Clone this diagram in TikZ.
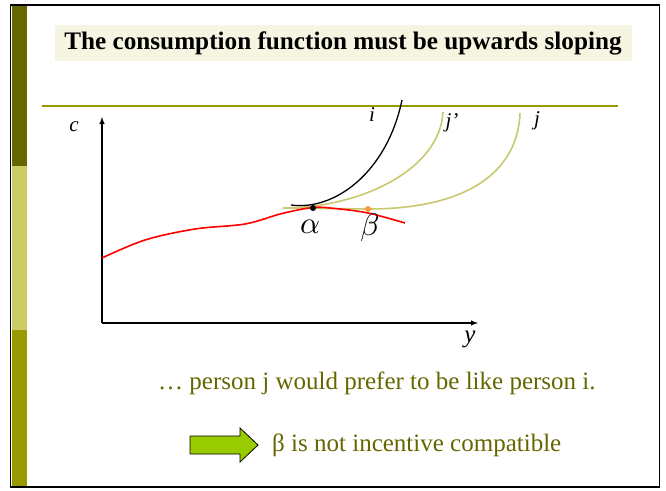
\documentclass[tikz,border=0pt]{standalone}
\usepackage{fontspec}
\setmainfont{Liberation Serif}
\begin{document}
\begin{tikzpicture}[x=1pt,y=-1pt,
  axis/.style={line width=1.4pt,-latex},
  khaki/.style={draw={rgb,255:red,200;green,200;blue,110},line width=1.6pt},
  lbl/.style={font=\itshape\fontsize{21}{21}\selectfont,inner sep=0pt},
  greek/.style={inner sep=0pt},
  olivetext/.style={text={rgb,255:red,102;green,102;blue,0},inner sep=0pt}]
\useasboundingbox (0,0) rectangle (666,490);
% frame and sidebar
\fill[color={rgb,255:red,102;green,102;blue,0}] (12,5) rectangle (27,166);
\fill[color={rgb,255:red,204;green,204;blue,102}] (12,166) rectangle (27,330);
\fill[color={rgb,255:red,153;green,153;blue,0}] (12,330) rectangle (27,487);
\draw[line width=1.5pt] (10.5,5) rectangle (659.5,487);
% title
\node[fill={rgb,255:red,245;green,245;blue,225},minimum width=577pt,minimum height=36pt,inner sep=0pt] (titlebox) at (343,43) {};
\node[font=\bfseries\fontsize{25.2}{25.2}\selectfont,inner sep=0pt] (title) at (titlebox.center) {The consumption function must be upwards sloping};
% horizontal line
\coordinate (hl) at (42,106);
\coordinate (hr) at (618,106);
\draw[line width=1.2pt,color={rgb,255:red,153;green,153;blue,0}] (hl) -- (hr);
% axes
\coordinate (O) at (102,323);
\coordinate (ytop) at (102,117);
\coordinate (xend) at (478,323);
\draw[axis] (O) -- (ytop);
\draw[axis] (O) -- (xend);
\node[lbl] (clbl) at (74,127) {c};
\node[lbl,font=\itshape\fontsize{25}{25}\selectfont] (ylbl) at (470,339) {y};
% points
\coordinate (alpha) at (313,208);
\coordinate (beta) at (368,209);
% khaki indifference curves
\coordinate (kstart) at (283,208);
\coordinate (jpend) at (443,112);
\coordinate (jend) at (520,113);
\draw[khaki] (kstart) .. controls (360,208) and (440,170) .. (jpend);
\draw[khaki] (kstart) -- (beta) .. controls (470,209) and (518,170) .. (jend);
% red curve
\draw[red,line width=1.6pt] plot[smooth,tension=0.55] coordinates {(102,258) (145,240) (195,229) (245,224) (282,213.5) (313,207.5) (335,208.5) (368,213) (405,223)};
% black curve i
\coordinate (istart) at (291,205);
\coordinate (iend) at (402,100);
\draw[line width=1.3pt] (istart) .. controls (335,211) and (387,172) .. (iend);
% dots
\fill[black] (alpha) circle (3pt);
\fill[color={rgb,255:red,255;green,153;blue,51}] (beta) circle (3pt);
% labels
\node[lbl] (ilbl) at (372,115) {i};
\node[lbl] (jplbl) at (452,123) {j’};
\node[lbl] (jlbl) at (537,121) {j};
\node[greek] (alab) at (310,227) {\scalebox{3.1}{$\alpha$}};
\node[greek] (blab) at (370,228) {\scalebox{3.1}{$\beta$}};
% bottom text
\node[olivetext,font=\fontsize{25}{25}\selectfont,anchor=west] (t1) at (158,383) {… person j would prefer to be like person i.};
\draw[fill={rgb,255:red,153;green,204;blue,0},line width=0.8pt] (190,436)--(240,436)--(240,428)--(258,445)--(240,462)--(240,454)--(190,454)--cycle;
\node[olivetext,font=\fontsize{25}{25}\selectfont,anchor=west] (t2) at (272,445) {β is not incentive compatible};
\end{tikzpicture}
\end{document}
